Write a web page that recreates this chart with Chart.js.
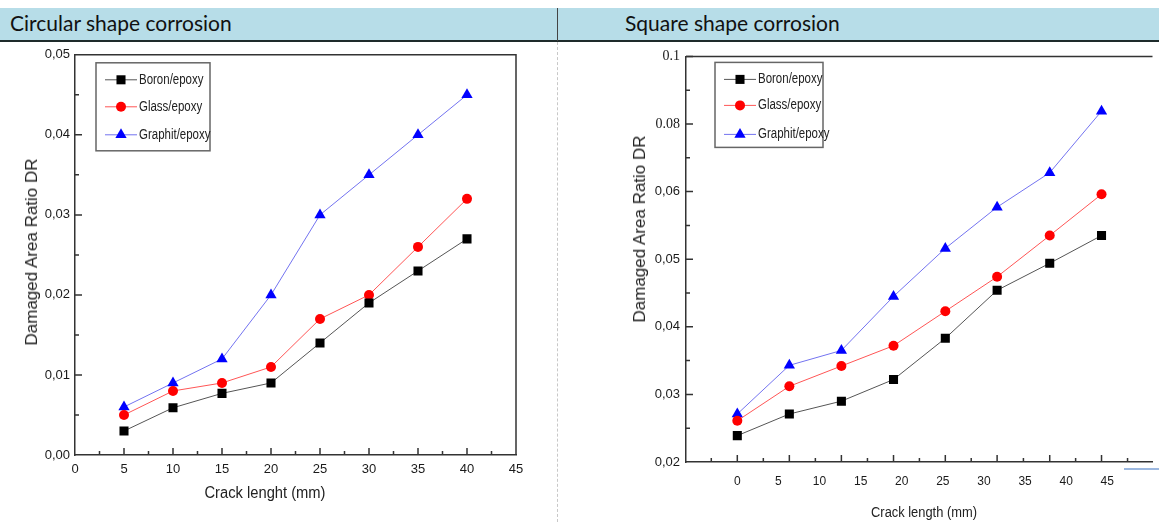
<html lang="en"><head>
<meta charset="UTF-8">
<title>Shape corrosion</title>
<script src="https://cdn.jsdelivr.net/npm/chart.js"></script>
<style>
  body { margin: 0; width: 1159px; height: 522px; background: #fff; position: relative; overflow: hidden; font-family: 'Liberation Sans', Arial, sans-serif; }
  .header { position: absolute; left: 0; top: 8px; width: 1159px; height: 32px; background: #b7dde8; border-bottom: 2px solid #1e2b2b; }
  .header span { position: absolute; top: 2px; font-family: Lato, 'Open Sans', sans-serif; font-size: 21px; color: #111; }
  .divider { position: absolute; left: 557px; top: 8px; width: 1px; height: 33px; background: #444; }
  .dotted { position: absolute; left: 557px; top: 42px; height: 480px; border-left: 1px dashed #c8c8c8; }
  .box { position: absolute; }
  .ytitle { position: absolute; white-space: nowrap; color: #222; transform: translate(-50%, -50%) rotate(-90deg); }
  .xtitle { position: absolute; white-space: nowrap; color: #222; transform: translate(-50%, -50%) scaleX(0.92); }
  .stub { position: absolute; left: 1124px; top: 468px; width: 35px; height: 2px; background: #9cb8e0; }
</style>
</head>
<body>
  <div class="header">
    <span style="left:10px">Circular shape corrosion</span>
    <span style="left:625px">Square shape corrosion</span>
  </div>
  <div class="divider"></div>
  <div class="dotted"></div>

  <div class="box" style="left:0; top:42px; width:558px; height:480px"><canvas id="circChart"></canvas></div>
  <div class="box" style="left:560px; top:42px; width:599px; height:480px"><canvas id="squareChart"></canvas></div>

  <div class="ytitle" style="left:32px; top:252px; font-size:17px">Damaged Area Ratio DR</div>
  <div class="ytitle" style="left:640px; top:229px; font-size:17px">Damaged Area Ratio DR</div>
  <div class="xtitle" style="left:265px; top:493px; font-size:16px">Crack lenght (mm)</div>
  <div class="xtitle" style="left:924px; top:512px; font-size:14px">Crack length (mm)</div>
  <div class="stub"></div>

<script>
  const seriesNames = ['Boron/epoxy', 'Glass/epoxy', 'Graphit/epoxy'];

  // circular shape corrosion
  const circX = [5, 10, 15, 20, 25, 30, 35, 40];
  const circBoron = [0.003, 0.0059, 0.0077, 0.009, 0.014, 0.019, 0.023, 0.027];
  const circGlass = [0.005, 0.008, 0.009, 0.011, 0.017, 0.020, 0.026, 0.032];
  const circGraphit = [0.006, 0.009, 0.012, 0.020, 0.030, 0.035, 0.040, 0.045];
  const circXTicks = [0, 5, 10, 15, 20, 25, 30, 35, 40, 45];
  const circYTicks = [0, 0.01, 0.02, 0.03, 0.04, 0.05];
  const circYLabels = ['0,00', '0,01', '0,02', '0,03', '0,04', '0,05'];

  // square shape corrosion (y positions on the printed, unevenly labelled axis)
  const sqX = [0, 6.33, 12.66, 19, 25.3, 31.6, 38, 44.3];
  const sqBoron = [0.0239, 0.0271, 0.029, 0.0322, 0.0383, 0.0454, 0.0494, 0.0535];
  const sqGlass = [0.0261, 0.0312, 0.0342, 0.0372, 0.0423, 0.0474, 0.0535, 0.0596];
  const sqGraphit = [0.0271, 0.0343, 0.0365, 0.0445, 0.0516, 0.0577, 0.0628, 0.0719];
  const sqXTicks = [0, 5, 10, 15, 20, 25, 30, 35, 40, 45];
  const sqYTicks = [0.02, 0.03, 0.04, 0.05, 0.06, 0.07, 0.08];
  const sqYLabels = ['0,02', '0,03', '0,04', '0,05', '0,06', '0.08', '0.1'];

  const sans = "'Liberation Sans', Arial, sans-serif";
  const styles = [
    { line: '#555555', fill: '#000000', point: 'rect', radius: 6.4 },
    { line: '#ff5555', fill: '#ff0000', point: 'circle', radius: 5 },
    { line: '#7373f0', fill: '#0000ff', point: 'triangle', radius: 6.5 }
  ];

  function makeSets(xs, ys) {
    return ys.map((arr, i) => ({
      label: seriesNames[i],
      data: arr.map((v, j) => ({ x: xs[j], y: v })),
      borderColor: styles[i].line,
      borderWidth: 1,
      backgroundColor: styles[i].fill,
      pointBackgroundColor: styles[i].fill,
      pointBorderColor: styles[i].fill,
      pointBorderWidth: 0,
      pointStyle: styles[i].point,
      pointRadius: styles[i].radius,
      tension: 0
    }));
  }

  function mids(vals) {
    const out = [];
    for (let i = 0; i < vals.length - 1; i++) out.push((vals[i] + vals[i + 1]) / 2);
    return out;
  }

  // inward tick marks, frame and legend box (Origin style)
  const originLook = {
    id: 'originLook',
    afterDatasetsDraw(chart, args, o) {
      const ctx = chart.ctx, a = chart.chartArea;
      const xs = chart.scales.x, ys = chart.scales.y;
      ctx.save();
      ctx.strokeStyle = '#333';
      ctx.lineWidth = 1.5;
      ctx.beginPath();
      ctx.moveTo(a.left, a.top);
      ctx.lineTo(a.right, a.top);
      if (o.rightBorder) ctx.lineTo(a.right, a.bottom);
      ctx.stroke();

      const tick = (px, py, dx, dy) => { ctx.moveTo(px, py); ctx.lineTo(px + dx, py + dy); };
      ctx.beginPath();
      o.xMajor.forEach(v => tick(xs.getPixelForValue(v), a.bottom, 0, -7));
      o.xMinor.forEach(v => tick(xs.getPixelForValue(v), a.bottom, 0, -4));
      o.yMajor.forEach(v => tick(a.left, ys.getPixelForValue(v), 7, 0));
      o.yMinor.forEach(v => tick(a.left, ys.getPixelForValue(v), 4, 0));
      ctx.stroke();

      // legend
      const L = o.legend;
      const bx = a.left + L.dx, by = a.top + L.dy;
      ctx.strokeStyle = '#666';
      ctx.lineWidth = 1.5;
      ctx.strokeRect(bx, by, L.w, L.h);
      ctx.font = L.font;
      ctx.textBaseline = 'middle';
      chart.data.datasets.forEach((ds, i) => {
        const cy = by + L.rows[i];
        ctx.strokeStyle = ds.borderColor;
        ctx.lineWidth = 1;
        ctx.beginPath();
        ctx.moveTo(bx + 9, cy);
        ctx.lineTo(bx + 41, cy);
        ctx.stroke();
        ctx.fillStyle = ds.pointBackgroundColor;
        Chart.helpers.drawPoint(ctx, { pointStyle: ds.pointStyle, radius: ds.pointRadius, borderWidth: 0, rotation: 0 }, bx + 25, cy);
        ctx.fillStyle = '#222';
        ctx.save();
        ctx.translate(bx + 43, cy);
        ctx.scale(0.82, 1);   // narrow lettering like the original
        ctx.fillText(ds.label, 0, 0);
        ctx.restore();
      });
      ctx.restore();
    }
  };

  function axisX(min, max, ticks, padding, size) {
    return {
      type: 'linear', min: min, max: max,
      afterBuildTicks: s => { s.ticks = ticks.map(v => ({ value: v })); },
      grid: { display: false, drawTicks: false },
      border: { display: true, color: '#333', width: 1.5 },
      ticks: { color: '#1a1a1a', padding: padding, maxRotation: 0, autoSkip: false, font: { family: sans, size: size } }
    };
  }

  function axisY(min, max, ticks, labels, padding, fontFn) {
    return {
      type: 'linear', min: min, max: max,
      afterBuildTicks: s => { s.ticks = ticks.map(v => ({ value: v })); },
      grid: { display: false, drawTicks: false },
      border: { display: true, color: '#333', width: 1.5 },
      ticks: { color: '#1a1a1a', padding: padding, autoSkip: false, callback: (v, i) => labels[i], font: fontFn }
    };
  }

  const cx = axisX(0, 45, circXTicks, 7, 13);
  cx.afterFit = s => { s.height = 67; };
  const cy = axisY(0, 0.05, circYTicks, circYLabels, 5, { family: sans, size: 13 });
  cy.afterFit = s => { s.width = 75; };

  new Chart(document.getElementById('circChart'), {
    type: 'line',
    data: { datasets: makeSets(circX, [circBoron, circGlass, circGraphit]) },
    options: {
      responsive: true, maintainAspectRatio: false, animation: false,
      layout: { padding: { left: 0, right: 42, top: 9, bottom: 0 } },
      plugins: {
        legend: { display: false }, tooltip: { enabled: false },
        originLook: {
          rightBorder: true,
          xMajor: circXTicks.slice(1, -1), xMinor: mids(circXTicks),
          yMajor: circYTicks.slice(1, -1), yMinor: mids(circYTicks),
          legend: { dx: 21, dy: 8, w: 114, h: 88, rows: [17, 44, 72], font: '14px ' + sans }
        }
      },
      scales: { x: cx, y: cy }
    },
    plugins: [originLook]
  });

  const step = sqX[1] - sqX[0];
  const sqMinor = mids([sqX[0] - step].concat(sqX, [sqX[sqX.length - 1] + step]));
  const sx = axisX(-6.24, 50.5, sqXTicks, 12, 12);
  sx.afterFit = s => { s.height = 60; };
  const sy = axisY(0.02, 0.08, sqYTicks, sqYLabels, 6, c =>
    (sqYLabels[c.index] || '').indexOf('.') >= 0
      ? { family: "'Liberation Serif', 'Times New Roman', serif", size: 14 }
      : { family: sans, size: 13 });
  sy.afterFit = s => { s.width = 126; };

  new Chart(document.getElementById('squareChart'), {
    type: 'line',
    data: { datasets: makeSets(sqX, [sqBoron, sqGlass, sqGraphit]) },
    options: {
      responsive: true, maintainAspectRatio: false, animation: false,
      layout: { padding: { left: 0, right: 0, top: 7, bottom: 0 } },
      plugins: {
        legend: { display: false }, tooltip: { enabled: false },
        originLook: {
          rightBorder: false,
          xMajor: sqX, xMinor: sqMinor,
          yMajor: sqYTicks.slice(1), yMinor: mids(sqYTicks),
          legend: { dx: 29, dy: 6, w: 108, h: 85, rows: [17, 43, 72], font: '14px ' + sans }
        }
      },
      scales: { x: sx, y: sy }
    },
    plugins: [originLook]
  });
</script>
</body></html>
